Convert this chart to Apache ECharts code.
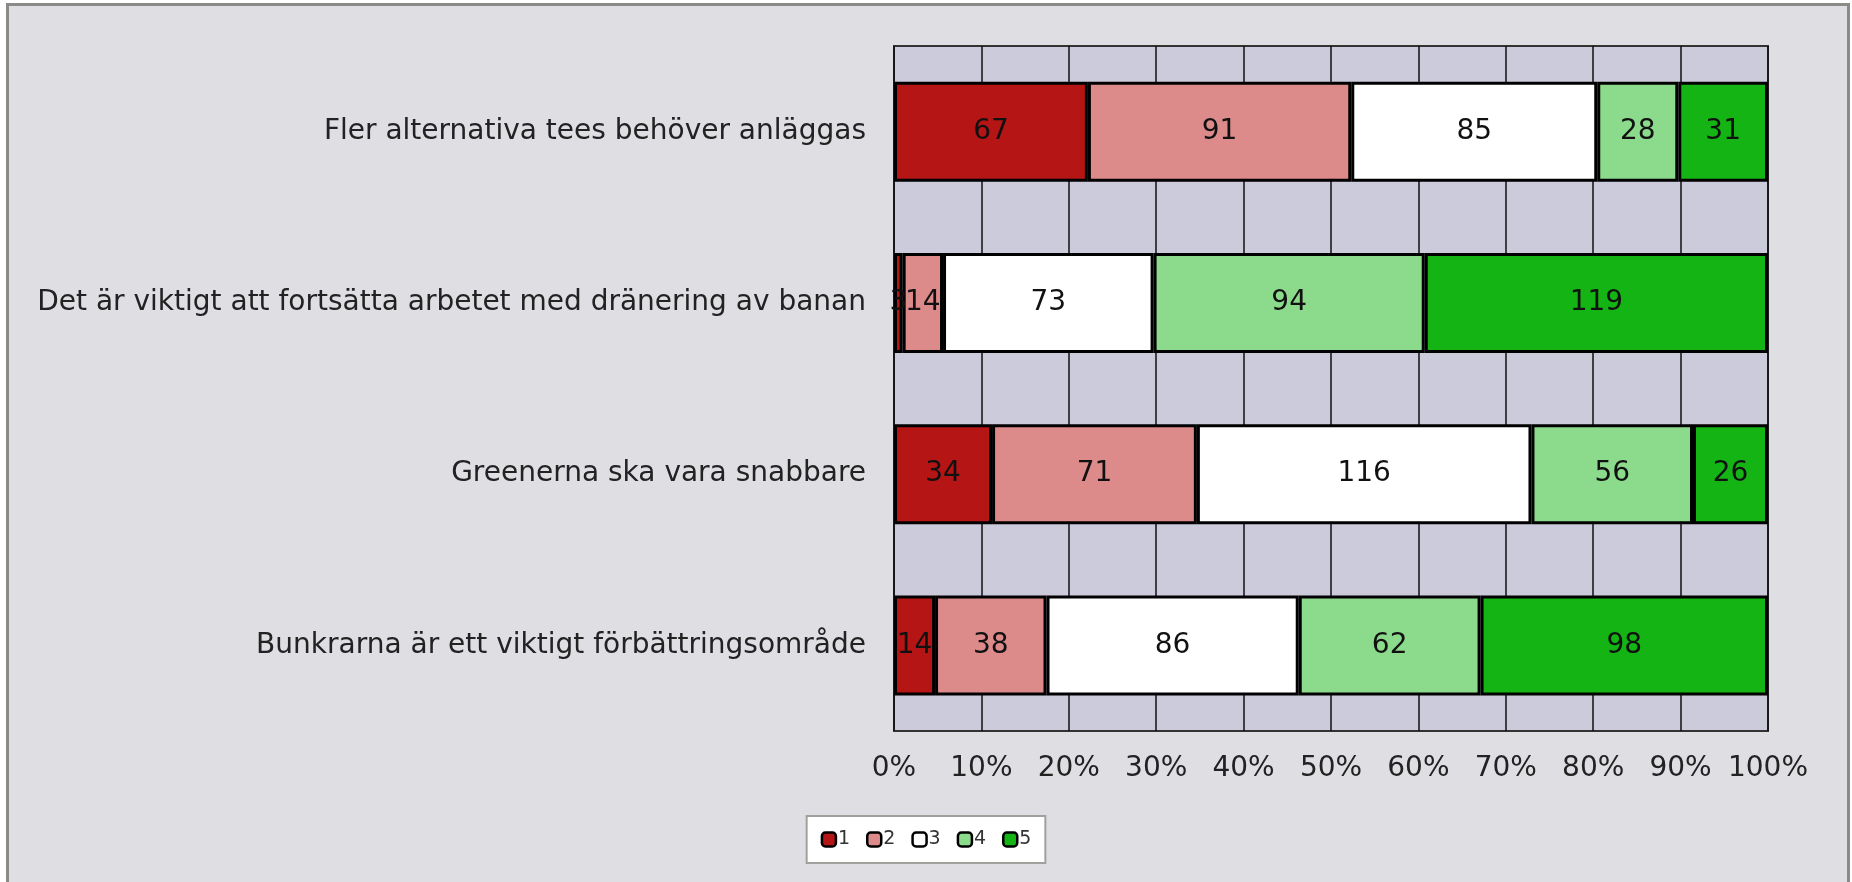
<!DOCTYPE html>
<html>
<head>
<meta charset="utf-8">
<script src="https://cdn.jsdelivr.net/npm/echarts@6/dist/echarts.min.js"></script>
<style>
  html, body { margin: 0; padding: 0; background: #ffffff; }
  #chart { width: 1852px; height: 882px; }
</style>
</head>
<body>
<div id="chart"></div>
<script>
// data
const categories = [
  'Fler alternativa tees behöver anläggas',
  'Det är viktigt att fortsätta arbetet med dränering av banan',
  'Greenerna ska vara snabbare',
  'Bunkrarna är ett viktigt förbättringsområde'
]
const seriesNames = ['1', '2', '3', '4', '5']
const counts1 = [67, 3, 34, 14]
const counts2 = [91, 14, 71, 38]
const counts3 = [85, 73, 116, 86]
const counts4 = [28, 94, 56, 62]
const counts5 = [31, 119, 26, 98]
const tickLabels = ['0%', '10%', '20%', '30%', '40%', '50%', '60%', '70%', '80%', '90%', '100%']

const colorList = ['#b51515', '#dc8a8a', '#ffffff', '#8cdb8c', '#14b414']
const allCounts = [counts1, counts2, counts3, counts4, counts5]
// row totals, used to turn counts into shares of 100%
const totals = categories.map((c, i) => allCounts.reduce((s, arr) => s + arr[i], 0))

const font = 'DejaVu Sans'
const chart = echarts.init(document.getElementById('chart'))

const option = {
  animation: false,
  backgroundColor: 'transparent',
  graphic: [
    {
      type: 'rect',
      z: -10,
      shape: { x: 7.5, y: 4.5, width: 1841, height: 900 },
      style: { fill: '#dfdee3', stroke: '#8a8a86', lineWidth: 3 }
    }
  ],
  legend: {
    show: true,
    bottom: 19,
    left: 'center',
    itemWidth: 14,
    itemHeight: 14,
    itemGap: 16,
    padding: [14, 14, 14, 14],
    backgroundColor: '#ffffff',
    borderColor: '#a0a09c',
    borderWidth: 2,
    textStyle: { fontFamily: font, fontSize: 19, color: '#333', padding: [0, 0, 0, -3] },
    itemStyle: { borderColor: '#000', borderWidth: 2.5 },
    icon: 'roundRect',
    data: seriesNames
  },
  grid: {
    left: 894,
    right: 84,
    top: 46,
    height: 685,
    show: true,
    backgroundColor: '#cccbdb',
    borderColor: '#333',
    borderWidth: 2
  },
  xAxis: {
    type: 'value',
    min: 0,
    max: 100,
    interval: 10,
    axisLine: { show: false },
    axisTick: { show: false },
    splitLine: { show: true, lineStyle: { color: '#111', width: 1.5 } },
    axisLabel: {
      margin: 24,
      fontFamily: font,
      fontSize: 28,
      color: '#222',
      formatter: (v) => tickLabels[Math.round(v / 10)]
    }
  },
  yAxis: {
    type: 'category',
    inverse: true,
    data: categories,
    axisLine: { show: false },
    axisTick: { show: false },
    splitLine: { show: false },
    axisLabel: { margin: 28, fontFamily: font, fontSize: 28, color: '#222' }
  },
  series: seriesNames.map((name, k) => ({
    name: name,
    type: 'bar',
    stack: 'total',
    barWidth: 100,
    data: allCounts[k].map((v, i) => ({ value: (v / totals[i]) * 100, count: v })),
    itemStyle: { color: colorList[k], borderColor: '#000', borderWidth: 3 },
    label: {
      show: true,
      position: 'inside',
      fontFamily: font,
      fontSize: 28,
      color: '#111',
      formatter: (p) => String(p.data.count)
    }
  }))
}
chart.setOption(option)
</script>
</body>
</html>
